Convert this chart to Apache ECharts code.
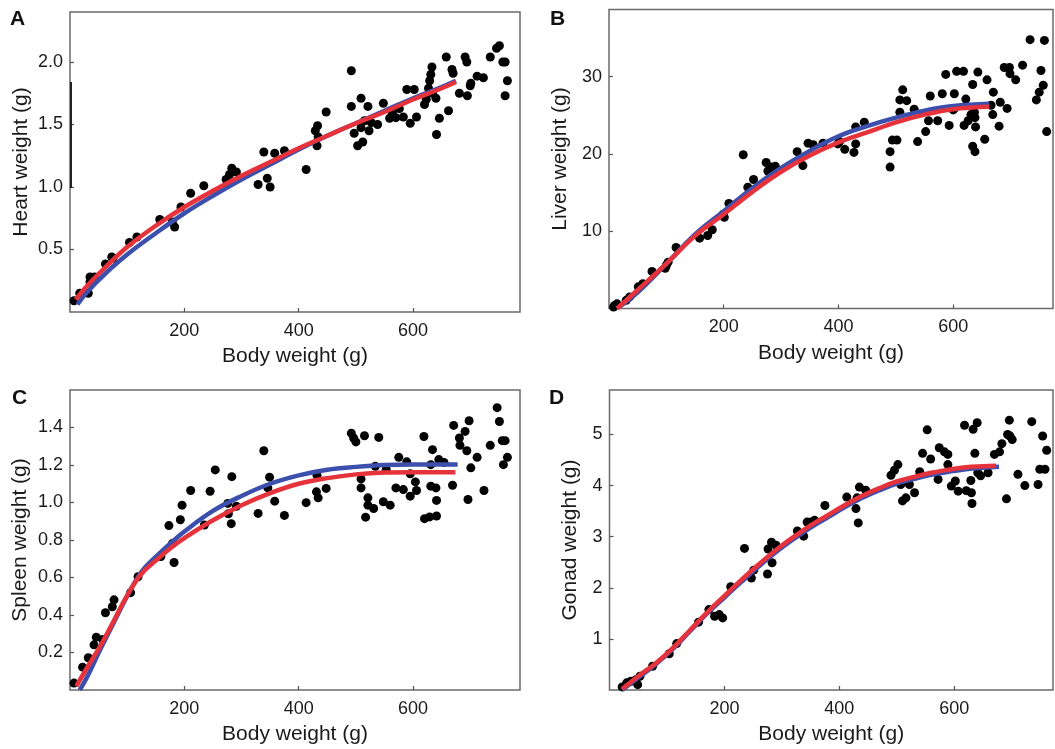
<!DOCTYPE html>
<html>
<head>
<meta charset="utf-8">
<script src="https://cdn.jsdelivr.net/npm/echarts@6/dist/echarts.min.js"></script>
<style>
  html, body { margin: 0; padding: 0; background: #fff; }
  #chart { width: 1055px; height: 749px; }
</style>
</head>
<body>
<div id="chart"></div>
<script>
// organ weight vs body weight, 4 panels (A-D)

const xTicks = [200, 400, 600];

// A - heart
const heartPts = [[7,0.09],[17,0.15],[32,0.15],[35,0.24],[35,0.28],[43,0.28],[62,0.385],[73,0.44],[75,0.43],[104,0.556],[117,0.6],[157,0.74],[179,0.72],[183,0.68],[194,0.84],[211,0.95],[234,1.01],[273,1.06],[279,1.1],[283,1.15],[291,1.12],[329,1.02],[339,1.28],[345,1.07],[350,1.0],[358,1.27],[375,1.29],
  [413,1.14],[429,1.45],[433,1.49],[432,1.33],[434,1.4],[448,1.6],[492,1.93],[492,1.645],[497,1.43],[503,1.33],[512,1.36],[509,1.71],[515,1.53],[521,1.645],[509,1.475],[523,1.45],[527,1.515],[538,1.5],[548,1.67],[559,1.55],[564,1.59],[570,1.555],[576,1.627],[583,1.56],[595,1.51],[606,1.56],[589,1.78],[602,1.78],[620,1.66],[623,1.7],[627,1.79],[629,1.85],[631,1.9],[633,1.96],[634,1.75],[640,1.71],[641,1.42],[646,1.55],[662,1.61],[658,2.04],[668,1.94],[670,1.91],[681,1.75],[691,2.04],[694,2.0],[695,1.73],[700,1.81],[701,1.83],[712,1.887],[723,1.874],[735,2.04],[746,2.11],[751,2.13],[757,2.0],[761,2.0],[765,1.85],[761,1.73]];
const heartBlueX = [13,30,60,100,150,200,250,300,350,400,450,500,550,600,650,675];
const heartBlue  = [0.06,0.16,0.30,0.46,0.63,0.79,0.93,1.06,1.18,1.30,1.41,1.51,1.61,1.71,1.80,1.85];
const heartRedX  = [10,30,60,100,150,200,250,300,350,400,450,500,550,600,650,675];
const heartRed   = [0.10,0.21,0.35,0.52,0.69,0.84,0.97,1.09,1.20,1.31,1.41,1.51,1.60,1.70,1.79,1.84];

// B - liver
const liverPts = [[10,0.4],[8,0.2],[14,0.6],[30,1.06],[36,1.5],[51,2.8],[59,3.2],[75,4.8],[100,5.6],[103,6.0],[98,5.2],[117,7.9],[158,9.1],[172,9.45],[180,10.2],[199,12.2],[201,11.8],[209,13.6],[234,19.9],[242,15.7],[252,16.7],[274,18.9],[277,17.8],[283,18.3],[290,18.4],[328,20.3],[338,18.5],[347,21.4],[356,21.2],[373,21.4],
  [399,21.3],[402,21.6],[411,20.6],[427,20.2],[430,21.3],[430,23.5],[445,24.1],[490,18.3],[490,20.3],[494,21.8],[502,21.8],[507,25.4],[507,27.0],[512,28.3],[519,26.9],[532,25.8],[538,21.6],[552,22.9],[557,24.3],[560,27.5],[573,24.3],[581,27.8],[587,30.3],[593,23.7],[600,25.7],[602,25.9],[602,27.8],[606,30.7],[618,30.7],[619,23.7],[622,27.1],[626,24.3],[631,25.1],[634,29.0],[637,25.4],[638,24.7],[639,23.5],[634,21.0],[638,20.3],[643,30.6],[655,21.9],[659,29.6],[666,26.3],[670,28.0],[669,25.1],[680,23.6],[682,26.7],[694,25.9],[689,31.2],[698,31.2],[699,30.4],[709,29.6],[721,31.5],[734,34.8],[759,34.7],[753,30.8],[757,28.9],[750,28.0],[745,27.0],[763,22.9]];
const liverX    = [14,50,100,150,200,250,300,350,400,450,500,550,600,663];
const liverBlue = [0,2.1,5.8,9.6,12.6,15.6,18.2,20.4,22.3,23.6,24.7,25.6,26.2,26.5];
const liverRed  = [0,2.4,5.8,9.4,12.2,15.1,17.7,19.8,21.5,22.8,24.1,25.1,25.8,26.1];

// C - spleen
const spleenPts = [[7,0.037],[22,0.122],[32,0.172],[42,0.241],[46,0.282],[57,0.27],[62,0.412],[74,0.444],[77,0.481],[106,0.519],[119,0.604],[159,0.712],[173,0.877],[179,0.781],[182,0.68],[193,0.908],[196,0.986],[211,1.064],[235,0.88],[245,1.06],[254,1.174],[277,0.94],[282,0.887],[283,1.138],[276,0.995],[291,0.98],[329,0.942],[339,1.276],[349,1.135],[346,1.078],[358,1.007],[375,0.931],
  [413,0.999],[432,1.145],[431,1.057],[434,1.025],[448,1.075],[492,1.37],[496,1.344],[500,1.323],[515,1.356],[540,1.347],[509,1.126],[509,1.078],[521,1.025],[521,0.986],[531,0.968],[517,0.922],[534,1.193],[548,1.004],[560,0.986],[553,1.176],[570,1.078],[583,1.069],[575,1.241],[589,1.217],[595,1.153],[595,1.034],[604,1.11],[606,1.064],[619,1.352],[620,0.914],[629,0.923],[641,0.928],[634,1.282],[631,1.202],[631,1.087],[640,1.078],[641,1.011],[645,1.229],[654,1.214],[669,1.092],[671,1.411],[681,1.344],[682,1.305],[691,1.379],[694,1.276],[698,1.436],[696,1.016],[701,1.185],[712,1.241],[724,1.064],[735,1.305],[747,1.506],[751,1.432],[756,1.33],[761,1.33],[765,1.241],[758,1.202]];
const spleenBlueX = [17,30,52,75,100,125,150,175,200,250,300,350,400,450,500,550,600,678];
const spleenBlue  = [0.0,0.07,0.21,0.35,0.5,0.63,0.71,0.78,0.845,0.955,1.035,1.1,1.145,1.175,1.19,1.2,1.203,1.203];
const spleenRedX  = [11,30,52,75,100,125,150,175,200,250,300,350,400,450,500,550,600,674];
const spleenRed   = [0.02,0.12,0.23,0.36,0.505,0.62,0.69,0.755,0.81,0.905,0.985,1.05,1.1,1.13,1.15,1.16,1.162,1.162];

// D - gonad
const gonadPts = [[22,0.06],[30,0.14],[37,0.17],[46,0.2],[49,0.105],[53,0.27],[75,0.465],[104,0.71],[117,0.908],[155,1.327],[173,1.574],[183,1.444],[191,1.476],[197,1.41],[211,2.02],[235,2.77],[247,2.19],[251,2.345],[275,2.27],[276,2.76],[282,2.89],[290,2.83],[283,2.49],[327,3.11],[338,3.01],[344,3.285],[351,3.285],[357,3.32],[375,3.61],
  [413,3.775],[435,3.97],[431,3.76],[429,3.55],[433,3.27],[446,3.91],[490,4.2],[496,4.3],[502,4.41],[510,3.7],[516,3.76],[507,4.02],[522,4.02],[531,3.86],[540,4.27],[545,4.63],[553,5.09],[559,4.52],[572,4.12],[574,4.74],[583,4.66],[589,4.61],[589,4.41],[595,3.99],[602,4.09],[607,3.89],[618,5.18],[621,3.9],[630,3.86],[631,3.65],[629,4.1],[633,5.1],[640,5.23],[636,4.63],[641,4.25],[646,4.19],[659,4.25],[670,4.61],[679,4.66],[683,4.82],[693,5.0],[697,4.97],[701,4.9],[696,5.28],[691,3.74],[711,4.22],[723,4.0],[735,5.25],[746,4.02],[749,4.32],[758,4.32],[754,4.97],[761,4.69]];
const gonadBlueX = [22,50,80,110,140,170,200,230,260,290,320,350,380,410,440,470,500,530,560,590,620,650,678];
const gonadBlue  = [0.0,0.24,0.5,0.8,1.15,1.5,1.81,2.12,2.42,2.7,2.95,3.18,3.38,3.58,3.76,3.91,4.04,4.13,4.21,4.27,4.32,4.35,4.37];
const gonadRedX  = [22,50,80,110,140,170,200,230,260,290,320,350,380,410,440,470,500,530,560,590,620,650,673];
const gonadRed   = [0.02,0.27,0.52,0.82,1.17,1.52,1.84,2.16,2.46,2.74,2.99,3.22,3.42,3.62,3.8,3.95,4.08,4.17,4.25,4.31,4.36,4.38,4.39];

const FONT = '"Liberation Sans", Arial, sans-serif';
const BLUE = '#3d4fac';
const RED = '#e6323b';

const zip = (xs, ys) => xs.map((x, i) => [x, ys[i]]);

const panels = [
  { letter: 'A', lx: 10, ly: 9, left: 70, top: 12, width: 450, height: 300, xMax: 787, yMax: 2.4, yInt: 0.5, dec: 1,
    yName: 'Heart weight (g)', yGap: 38, pts: heartPts, blue: zip(heartBlueX, heartBlue), red: zip(heartRedX, heartRed) },
  { letter: 'B', lx: 550, ly: 9, left: 609, top: 9.5, width: 444, height: 299, xMax: 774, yMax: 38.7, yInt: 10, dec: 0,
    yName: 'Liver weight (g)', yGap: 38, pts: liverPts, blue: zip(liverX, liverBlue), red: zip(liverX, liverRed) },
  { letter: 'C', lx: 12, ly: 388, left: 70, top: 390, width: 450, height: 300, xMax: 787, yMax: 1.6, yInt: 0.2, dec: 1,
    yName: 'Spleen weight (g)', yGap: 39, pts: spleenPts, blue: zip(spleenBlueX, spleenBlue), red: zip(spleenRedX, spleenRed) },
  { letter: 'D', lx: 549, ly: 388, left: 609.5, top: 390, width: 443.5, height: 300, xMax: 772, yMax: 5.87, yInt: 1, dec: 0,
    yName: 'Gonad weight (g)', yGap: 29, pts: gonadPts, blue: zip(gonadBlueX, gonadBlue), red: zip(gonadRedX, gonadRed) }
];

const chart = echarts.init(document.getElementById('chart'), null, { renderer: 'canvas' });

const option = {
  backgroundColor: '#fff',
  animation: false,
  textStyle: { fontFamily: FONT },
  title: panels.map(p => ({
    text: p.letter, left: p.lx, top: p.ly, padding: 0,
    textStyle: { fontFamily: FONT, fontSize: 21, fontWeight: 'bold', color: '#111' }
  })),
  grid: panels.map(p => ({
    left: p.left, top: p.top, width: p.width, height: p.height,
    show: true, borderColor: '#6a6a6a', borderWidth: 1.5, backgroundColor: 'transparent'
  })),
  xAxis: panels.map((p, i) => ({
    type: 'value', gridIndex: i, min: 0, max: p.xMax, interval: 200,
    name: 'Body weight (g)', nameLocation: 'middle', nameGap: 34,
    nameTextStyle: { fontFamily: FONT, fontSize: 21, color: '#1a1a1a' },
    axisLine: { show: false },
    axisTick: { show: true, inside: true, length: 4, lineStyle: { color: '#555', width: 1.2 } },
    axisLabel: { showMinLabel: false, showMaxLabel: false, margin: 10,
      fontFamily: FONT, fontSize: 18, color: '#1a1a1a',
      formatter: v => (xTicks.indexOf(v) >= 0 ? String(v) : '') },
    splitLine: { show: false }
  })),
  yAxis: panels.map((p, i) => ({
    type: 'value', gridIndex: i, min: 0, max: p.yMax, interval: p.yInt,
    name: p.yName, nameLocation: 'middle', nameGap: p.yGap, nameRotate: 90,
    nameTextStyle: { fontFamily: FONT, fontSize: 21, color: '#1a1a1a' },
    axisLine: { show: false },
    axisTick: { show: true, inside: true, length: 4, lineStyle: { color: '#555', width: 1.2 } },
    axisLabel: { showMinLabel: false, showMaxLabel: false, margin: 7,
      fontFamily: FONT, fontSize: 18, color: '#1a1a1a',
      formatter: v => v.toFixed(p.dec) },
    splitLine: { show: false }
  })),
  series: []
};

panels.forEach((p, i) => {
  option.series.push({
    type: 'scatter', xAxisIndex: i, yAxisIndex: i, data: p.pts,
    symbolSize: 9, itemStyle: { color: '#000', opacity: 1 }, z: 2
  });
  option.series.push({
    type: 'line', xAxisIndex: i, yAxisIndex: i, data: p.blue, smooth: 0.4,
    showSymbol: false, lineStyle: { color: BLUE, width: 4.5 }, z: 3
  });
  option.series.push({
    type: 'line', xAxisIndex: i, yAxisIndex: i, data: p.red, smooth: 0.4,
    showSymbol: false, lineStyle: { color: RED, width: 4.5 }, z: 4
  });
});

// small dark mark on panel A's left border
option.graphic = [{
  type: 'line', shape: { x1: 71, y1: 82, x2: 71, y2: 188 },
  style: { stroke: '#222', lineWidth: 2 }, z: 10
}];

chart.setOption(option);
</script>
</body>
</html>
